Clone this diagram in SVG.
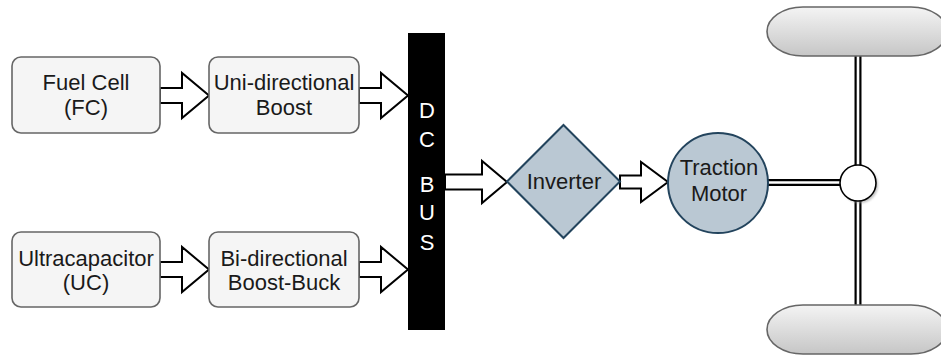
<svg xmlns="http://www.w3.org/2000/svg" width="941" height="359" viewBox="0 0 941 359">
  <style>
    .box { fill: #f5f5f5; stroke: #666666; stroke-width: 1.6; }
    .steel { fill: #bac8d3; stroke: #23445d; stroke-width: 2; }
    .lbl { font-family: "Liberation Sans", Arial, sans-serif; font-size: 22px; fill: #1a1a1a; text-anchor: middle; }
    .bus { font-family: "Liberation Sans", Arial, sans-serif; font-size: 22px; fill: #ffffff; text-anchor: middle; }
    .flow { fill: #ffffff; stroke: #000000; stroke-width: 2; stroke-linejoin: miter; }
    .shaft-o { stroke: #000000; stroke-width: 7; fill: none; }
    .shaft-i { stroke: #ffffff; stroke-width: 2.6; fill: none; }
    .wheel { fill: url(#wheelGrad); stroke: #666666; stroke-width: 1.6; }
  </style>
  <defs>
    <linearGradient id="wheelGrad" x1="0" y1="0" x2="0" y2="1">
      <stop offset="0" stop-color="#f4f4f4"/>
      <stop offset="1" stop-color="#c6c6c6"/>
    </linearGradient>
    <filter id="soft" x="-30%" y="-30%" width="160%" height="160%">
      <feGaussianBlur stdDeviation="1"/>
    </filter>
  </defs>

  <rect width="941" height="359" fill="#ffffff"/>

  <!-- power flow arrows -->
  <g id="connectors">
    <polygon class="flow" points="160,88 182,88 182,73 209,95.5 182,118 182,103 160,103"/>
    <polygon class="flow" points="359,88 381,88 381,73 408,95.5 381,118 381,103 359,103"/>
    <polygon class="flow" points="160,262 182,262 182,247 209,269.5 182,292 182,277 160,277"/>
    <polygon class="flow" points="359,262 381,262 381,247 408,269.5 381,292 381,277 359,277"/>
    <polygon class="flow" points="445,174.5 482,174.5 482,161 507,182 482,203 482,189.5 445,189.5"/>
    <polygon class="flow" points="620,175.5 641,175.5 641,162 668,182 641,202 641,188.5 620,188.5"/>
    <!-- mechanical drive line -->
    <line class="shaft-o" x1="768" y1="182.5" x2="841" y2="182.5"/>
    <line class="shaft-i" x1="768" y1="182.5" x2="841" y2="182.5"/>
    <line class="shaft-o" x1="858" y1="56" x2="858" y2="165"/>
    <line class="shaft-i" x1="858" y1="56" x2="858" y2="165"/>
    <line class="shaft-o" x1="858" y1="200" x2="858" y2="306"/>
    <line class="shaft-i" x1="858" y1="200" x2="858" y2="306"/>
  </g>

  <g id="fuel-cell">
    <rect class="box" x="12" y="57" width="148" height="76" rx="9"/>
    <text class="lbl" x="86" y="90">Fuel Cell</text>
    <text class="lbl" x="86" y="114.5">(FC)</text>
  </g>

  <g id="uni-boost">
    <rect class="box" x="209" y="57" width="150" height="76" rx="9"/>
    <text class="lbl" x="284" y="90">Uni-directional</text>
    <text class="lbl" x="284" y="114.5">Boost</text>
  </g>

  <g id="ultracapacitor">
    <rect class="box" x="12" y="232" width="148" height="75" rx="9"/>
    <text class="lbl" x="86" y="266">Ultracapacitor</text>
    <text class="lbl" x="86" y="290">(UC)</text>
  </g>

  <g id="bi-boost-buck">
    <rect class="box" x="209" y="232" width="150" height="75" rx="9"/>
    <text class="lbl" x="284" y="266">Bi-directional</text>
    <text class="lbl" x="284" y="290">Boost-Buck</text>
  </g>

  <g id="dc-bus">
    <rect x="408" y="33" width="37" height="297" fill="#000000"/>
    <text class="bus" x="427" y="118">D</text>
    <text class="bus" x="427" y="147">C</text>
    <text class="bus" x="427" y="192">B</text>
    <text class="bus" x="427" y="220">U</text>
    <text class="bus" x="427" y="250">S</text>
  </g>

  <g id="inverter">
    <polygon class="steel" points="563.5,125 620,181.5 563.5,238 507,181.5"/>
    <text class="lbl" x="564" y="189">Inverter</text>
  </g>

  <g id="traction-motor">
    <circle class="steel" cx="718" cy="183" r="50"/>
    <text class="lbl" x="719" y="175">Traction</text>
    <text class="lbl" x="719" y="201">Motor</text>
  </g>

  <g id="differential">
    <circle cx="860" cy="185" r="18" fill="#999999" opacity="0.6" filter="url(#soft)"/>
    <circle cx="858" cy="183" r="18" fill="#ffffff" stroke="#000000" stroke-width="1.6"/>
  </g>

  <g id="wheel-top">
    <rect class="wheel" x="767" y="7" width="180" height="49" rx="36" ry="24.5"/>
  </g>

  <g id="wheel-bottom">
    <rect class="wheel" x="767" y="305" width="180" height="49" rx="36" ry="24.5"/>
  </g>
</svg>
